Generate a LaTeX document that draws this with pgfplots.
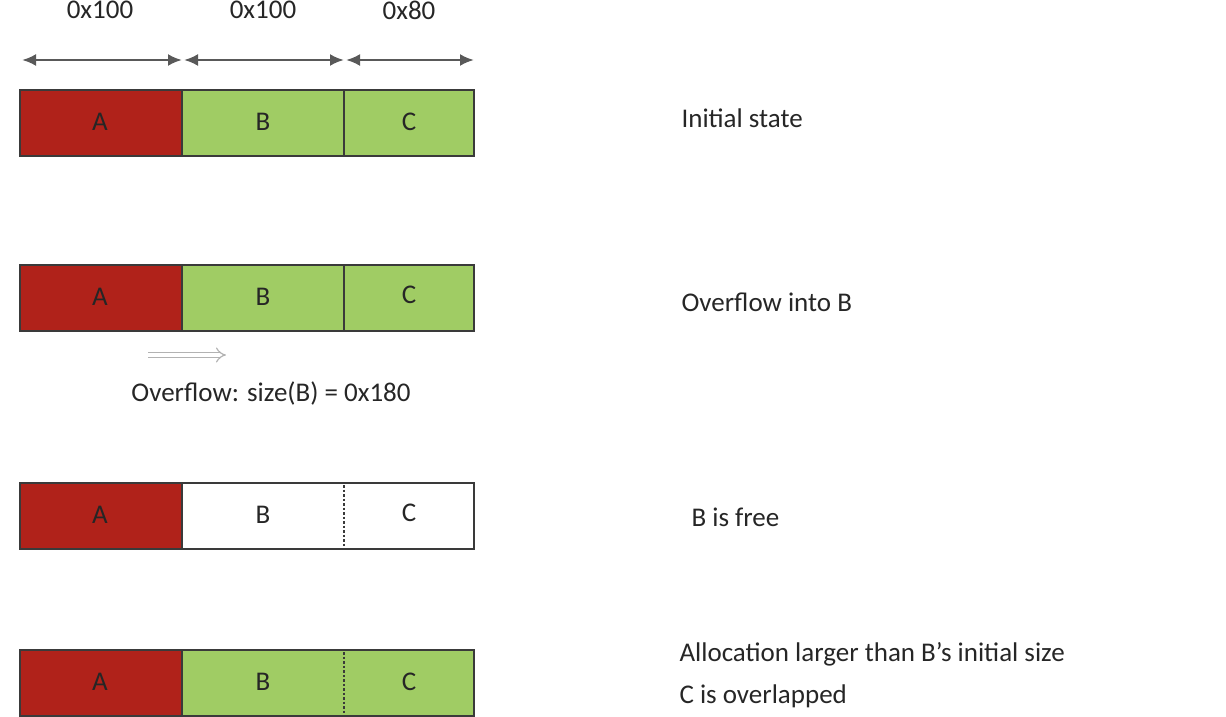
\documentclass[border=0pt]{standalone}
\usepackage{pgfplots}
\pgfplotsset{compat=1.18}
\usepackage{fontspec}
\setmainfont{Carlito}
\usetikzlibrary{arrows.meta}
\definecolor{cA}{HTML}{B0221A}
\definecolor{cG}{HTML}{A0CC64}
\definecolor{bd}{HTML}{3A3A3A}
\begin{document}
\begin{tikzpicture}
\begin{axis}[width=1226pt,height=716pt,scale only axis,hide axis,
  xmin=0,xmax=1226,ymin=0,ymax=716,y dir=reverse,clip=false]
% row 1
\addplot[fill=cA,draw=bd,line width=2.5pt] coordinates {(20,90)(182,90)(182,156)(20,156)} --cycle;
\addplot[fill=cG,draw=bd,line width=2.5pt] coordinates {(182,90)(344,90)(344,156)(182,156)} --cycle;
\addplot[fill=cG,draw=bd,line width=2.5pt] coordinates {(344,90)(474,90)(474,156)(344,156)} --cycle;
% row 2
\addplot[fill=cA,draw=bd,line width=2.5pt] coordinates {(20,265)(182,265)(182,331)(20,331)} --cycle;
\addplot[fill=cG,draw=bd,line width=2.5pt] coordinates {(182,265)(344,265)(344,331)(182,331)} --cycle;
\addplot[fill=cG,draw=bd,line width=2.5pt] coordinates {(344,265)(474,265)(474,331)(344,331)} --cycle;
% row 3
\addplot[fill=cA,draw=bd,line width=2.5pt] coordinates {(20,483)(182,483)(182,549)(20,549)} --cycle;
\addplot[fill=white,draw=bd,line width=2.5pt] coordinates {(182,483)(474,483)(474,549)(182,549)} --cycle;
\addplot[draw=bd,line width=2.5pt,dotted] coordinates {(344,485)(344,547)};
% row 4
\addplot[fill=cA,draw=bd,line width=2.5pt] coordinates {(20,650)(182,650)(182,716)(20,716)} --cycle;
\addplot[fill=cG,draw=bd,line width=2.5pt] coordinates {(182,650)(474,650)(474,716)(182,716)} --cycle;
\addplot[draw=bd,line width=2.5pt,dotted] coordinates {(344,652)(344,714)};
% size arrows
\addplot[gray!70!black,line width=2.5pt,{Latex[length=14pt,width=12pt]}-{Latex[length=14pt,width=12pt]}] coordinates {(22,60)(182,60)};
\addplot[gray!70!black,line width=2.5pt,{Latex[length=14pt,width=12pt]}-{Latex[length=14pt,width=12pt]}] coordinates {(184,60)(344,60)};
\addplot[gray!70!black,line width=2.5pt,{Latex[length=14pt,width=12pt]}-{Latex[length=14pt,width=12pt]}] coordinates {(346,60)(474,60)};
% overflow arrow
\addplot[gray!60,line width=1.2pt,double distance=4pt,-{Implies}] coordinates {(148,355)(226,355)};
\begin{scope}[every node/.style={font=\fontsize{27}{32}\selectfont,text=black!85}]
\node at (axis cs:100,10) {0x100};
\node at (axis cs:263,10) {0x100};
\node at (axis cs:409,10) {0x80};
\node at (axis cs:100,122) {A};
\node at (axis cs:263,122) {B};
\node at (axis cs:409,122) {C};
\node at (axis cs:100,297) {A};
\node at (axis cs:263,297) {B};
\node at (axis cs:409,295) {C};
\node at (axis cs:100,515) {A};
\node at (axis cs:263,515) {B};
\node at (axis cs:409,513) {C};
\node at (axis cs:100,682) {A};
\node at (axis cs:263,682) {B};
\node at (axis cs:409,682) {C};
\node[anchor=west] at (axis cs:678,118) {Initial state};
\node[anchor=west] at (axis cs:678,302) {Overflow into B};
\node at (axis cs:271,393) {Overflow: size(B) = 0x180};
\node[anchor=west] at (axis cs:688,517) {B is free};
\node[anchor=west] at (axis cs:676,654) {Allocation larger than B’s initial size};
\node[anchor=west] at (axis cs:676,696) {C is overlapped};
\end{scope}
\end{axis}
\pgfresetboundingbox
\path (current axis.south west) rectangle (current axis.north east);
\end{tikzpicture}
\end{document}
